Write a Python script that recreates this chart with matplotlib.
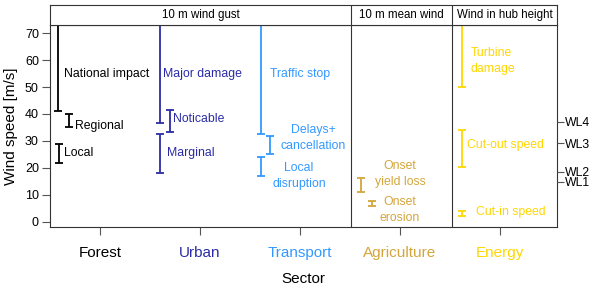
import matplotlib.pyplot as plt

plt.rcParams['font.family'] = ['Liberation Sans', 'DejaVu Sans']

sectors = ['Forest', 'Urban', 'Transport', 'Agriculture', 'Energy']
sector_colors = ['black', '#2b2ba6', '#3399ff', '#d4a53a', '#ffd700']

# impact wind speed ranges [m/s]; None = open towards the top
range_sector = [0, 0, 0, 1, 1, 1, 2, 2, 2, 3, 3, 4, 4, 4]
range_lo = [41, 35, 22, 36.5, 33.5, 18, 32.5, 25, 17, 11.2, 5.8, 50, 20.4, 2.3]
range_hi = [None, 40, 29, None, 41.5, 32.5, None, 32, 24, 16.4, 7.8, None, 34, 4]
range_labels = ['National impact', 'Regional', 'Local',
                'Major damage', 'Noticable', 'Marginal',
                'Traffic stop', 'Delays+\ncancellation', 'Local\ndisruption',
                'Onset\nyield loss', 'Onset\nerosion',
                'Turbine\ndamage', 'Cut-out speed', 'Cut-in speed']

wl_values = [14.9, 18.6, 29.1, 37.2]
wl_labels = ['WL1', 'WL2', 'WL3', 'WL4']

panels = ['10 m wind gust', '10 m mean wind', 'Wind in hub height']

# layout
bar_dx = [-0.42, -0.31, -0.41, -0.40, -0.30, -0.40, -0.39, -0.30, -0.39,
          -0.39, -0.28, -0.38, -0.38, -0.38]
label_pos = [(0.64, 55, 'left'), (0.75, 35.5, 'left'), (0.64, 25.6, 'left'),
             (1.63, 55, 'left'), (1.73, 38, 'left'), (1.67, 25.5, 'left'),
             (2.70, 55, 'left'), (3.13, 31.1, 'center'), (2.99, 17, 'center'),
             (4.0, 17.8, 'center'), (4.0, 4.5, 'center'),
             (4.71, 59.8, 'left'), (4.67, 28.5, 'left'), (4.76, 3.7, 'left')]
xmin, xmax = 0.5, 5.57
ymin, ymax = -1.9, 73
dividers = [3.51, 4.52]
box_col = '#333333'

fig = plt.figure(figsize=(6, 2.92), dpi=100)
W, H = 600, 292
ax = fig.add_axes([50 / W, (H - 227) / H, 507 / W, 202 / H])
hax = fig.add_axes([50 / W, (H - 25) / H, 507 / W, 20 / H])

for i in range(len(range_lo)):
    x = range_sector[i] + 1 + bar_dx[i]
    c = sector_colors[range_sector[i]]
    lo = range_lo[i]
    hi = range_hi[i] if range_hi[i] is not None else ymax + 1
    ax.plot([x, x], [lo, hi], color=c, lw=1.3, solid_capstyle='butt')
    caps = [lo] if range_hi[i] is None else [lo, hi]
    ax.plot([x] * len(caps), caps, ls='none', marker='_', ms=6, mew=1.3, color=c)
    lx, ly, ha = label_pos[i]
    ax.text(lx, ly, range_labels[i], color=c, fontsize=8.8, ha=ha, va='center',
            linespacing=1.45)

for d in dividers:
    ax.axvline(d, color=box_col, lw=0.8)
    hax.axvline(d, color=box_col, lw=0.8)

ax.set_xlim(xmin, xmax)
ax.set_ylim(ymin, ymax)
ax.set_xticks(range(1, 6))
ax.set_xticklabels(sectors, fontsize=11)
for lab, c in zip(ax.get_xticklabels(), sector_colors):
    lab.set_color(c)
ax.set_yticks(range(0, 71, 10))
ax.tick_params(axis='y', labelsize=9, length=6, width=0.8, color='#555555', pad=2)
ax.tick_params(axis='x', length=6, width=0.8, color='#555555', pad=8)
ax.set_xlabel('Sector', fontsize=11, labelpad=8)
ax.set_ylabel('Wind speed [m/s]', fontsize=11, labelpad=5)
for s in ax.spines.values():
    s.set_color(box_col)
    s.set_linewidth(0.8)

rax = ax.twinx()
rax.set_ylim(ymin, ymax)
rax.set_yticks(wl_values)
rax.set_yticklabels(wl_labels, fontsize=8.8)
rax.tick_params(axis='y', length=5, width=0.8, color='#555555', pad=1)
for s in rax.spines.values():
    s.set_visible(False)

hax.set_xlim(xmin, xmax)
hax.set_ylim(0, 1)
hax.set_xticks([])
hax.set_yticks([])
for s in hax.spines.values():
    s.set_color(box_col)
    s.set_linewidth(0.8)
edges = [xmin] + dividers + [xmax]
for k, name in enumerate(panels):
    hax.text((edges[k] + edges[k + 1]) / 2, 0.5, name, fontsize=8.3,
             ha='center', va='center')

fig.savefig('out.png', dpi=100)
